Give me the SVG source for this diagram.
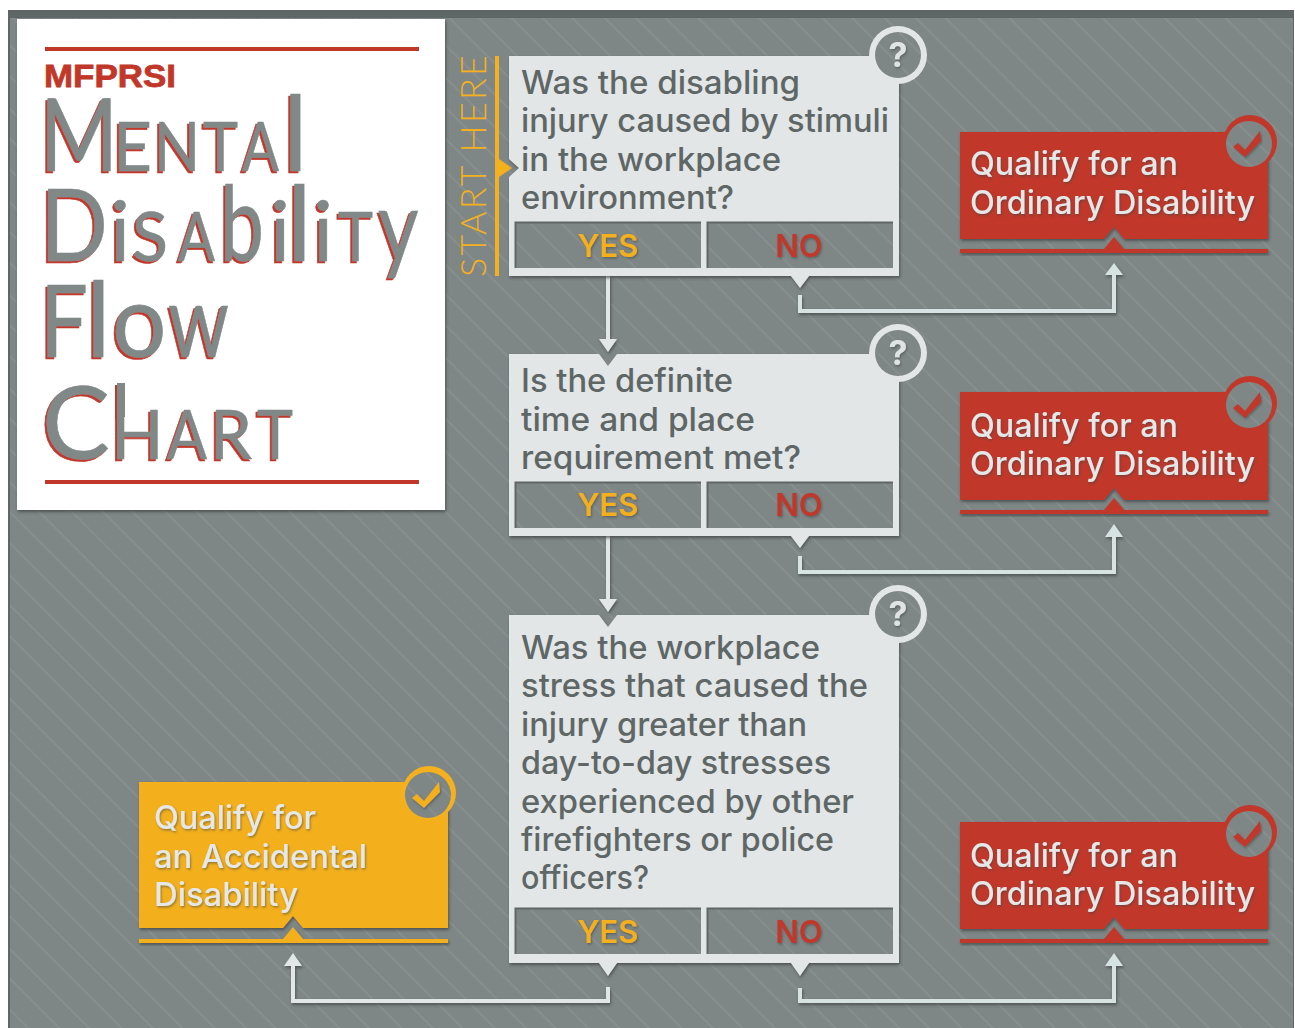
<svg xmlns="http://www.w3.org/2000/svg" width="1295" height="1028" viewBox="0 0 1295 1028">
<style>
text{font-family:"Inter","Lato","Liberation Sans",sans-serif}
.q{font-size:32px;font-weight:500;fill:#5f6766}
.r{font-size:32px;font-weight:500;fill:#e4e8e8}
.yes{font-size:31px;font-weight:600;fill:#f4b01e;text-anchor:middle}
.no{font-size:31px;font-weight:600;fill:#c1382a;text-anchor:middle}
.card{fill:#e2e6e6}
.cell{fill:url(#bg)}
.cellb{fill:none;stroke:#5f6766;stroke-width:2}
.hole{fill:url(#bg)}
.qm{font-size:34px;font-weight:700;fill:#dfe3e3;text-anchor:middle}
.conn{fill:none;stroke:#d6e3e2;stroke-width:4}
.conn2{fill:none;stroke:#e2e6e6;stroke-width:4}
.title{font-family:"Lato","Open Sans",sans-serif;font-weight:400;fill:#808888;stroke:#808888;stroke-width:.6}
.red{fill:#c1382a}.org{fill:#f4b01e}
</style>
<defs>
<pattern id="bg" width="66" height="66" patternUnits="userSpaceOnUse" patternTransform="rotate(45)">
<rect width="66" height="66" fill="#7e8686"/>
<path d="M0 4H66M0 25H66M0 47H66" stroke="#909797" stroke-width="1.2"/>
</pattern>
<filter id="sh" x="-10%" y="-10%" width="120%" height="125%"><feDropShadow dx="1" dy="2" stdDeviation="1.5" flood-color="#3f4444" flood-opacity=".75"/></filter>
<filter id="ts" x="-5%" y="-10%" width="110%" height="130%"><feDropShadow dx="1" dy="1.5" stdDeviation="1" flood-color="#3f4444" flood-opacity=".55"/></filter>
<filter id="rs" x="-5%" y="-5%" width="110%" height="110%"><feFlood flood-color="#c1382a"/><feComposite in2="SourceAlpha" operator="in"/><feOffset dx="-2" dy="2" result="o"/><feMerge><feMergeNode in="o"/><feMergeNode in="SourceGraphic"/></feMerge></filter>
</defs>
<rect width="1295" height="1028" fill="#fff"/>
<rect x="8" y="10" width="1286" height="1018" fill="#5f6766"/>
<rect x="10" y="18" width="1283" height="1010" fill="url(#bg)"/>

<g id="title-panel">
<rect x="17" y="19" width="428" height="491" fill="#fff" filter="url(#sh)"/>
<rect x="45" y="47" width="374" height="4" fill="#c1382a"/>
<rect x="45" y="480" width="374" height="4" fill="#c1382a"/>
<text x="44" y="87" style="font-family:'Liberation Sans',sans-serif;font-weight:700;font-size:32px;fill:#c1382a;stroke:#c1382a;stroke-width:.8" textLength="132" lengthAdjust="spacingAndGlyphs">MFPRSI</text>
<g filter="url(#rs)">
<text class="title" y="171"><tspan x="40" font-size="100" textLength="78" lengthAdjust="spacingAndGlyphs">M</tspan><tspan x="113" font-size="68" textLength="39" lengthAdjust="spacingAndGlyphs">E</tspan><tspan x="154" font-size="68" textLength="46" lengthAdjust="spacingAndGlyphs">N</tspan><tspan x="203" font-size="68" textLength="35" lengthAdjust="spacingAndGlyphs">T</tspan><tspan x="242" font-size="68" textLength="37" lengthAdjust="spacingAndGlyphs">A</tspan><tspan x="283" font-size="105">l</tspan></text>
<text class="title" y="261"><tspan x="40" font-size="100" textLength="68" lengthAdjust="spacingAndGlyphs">D</tspan><tspan x="110" font-size="84">i</tspan><tspan x="132" font-size="68" textLength="36" lengthAdjust="spacingAndGlyphs">S</tspan><tspan x="178" font-size="68" textLength="37" lengthAdjust="spacingAndGlyphs">A</tspan><tspan x="220" font-size="105" textLength="44" lengthAdjust="spacingAndGlyphs">b</tspan><tspan x="270" font-size="84">i</tspan><tspan x="287" font-size="105">l</tspan><tspan x="313" font-size="84">i</tspan><tspan x="338" font-size="68" textLength="35" lengthAdjust="spacingAndGlyphs">T</tspan><tspan x="378" font-size="98" textLength="40.500" lengthAdjust="spacingAndGlyphs">y</tspan></text>
<text class="title" y="357"><tspan x="40" font-size="100" textLength="48" lengthAdjust="spacingAndGlyphs">F</tspan><tspan x="86" font-size="105">l</tspan><tspan x="112" font-size="100" textLength="54.500" lengthAdjust="spacingAndGlyphs">o</tspan><tspan x="168" font-size="100" textLength="61" lengthAdjust="spacingAndGlyphs">w</tspan></text>
<rect x="117" y="383" width="8" height="34" fill="#808888"/>
<text class="title" y="459"><tspan x="42" font-size="100" textLength="68" lengthAdjust="spacingAndGlyphs">C</tspan><tspan x="111" font-size="68" textLength="52.600" lengthAdjust="spacingAndGlyphs">H</tspan><tspan x="167" font-size="68" textLength="40" lengthAdjust="spacingAndGlyphs">A</tspan><tspan x="210" font-size="68" textLength="42" lengthAdjust="spacingAndGlyphs">R</tspan><tspan x="257" font-size="68" textLength="36" lengthAdjust="spacingAndGlyphs">T</tspan></text>
</g>
</g>

<g id="start-here">
<text transform="translate(486 277) rotate(-90)" style="font-family:'Lato',sans-serif;font-weight:300;font-size:36px;fill:#f4b01e" textLength="222" lengthAdjust="spacing">START HERE</text>
<rect x="495" y="56" width="4" height="220" class="org"/>
</g>

<g id="connectors" filter="url(#sh)">
<path class="conn2" d="M608 276V342"/>
<path d="M599 339H617L608 352Z" fill="#e2e6e6"/>
<path class="conn2" d="M608 536V601"/>
<path d="M599 599H617L608 612Z" fill="#e2e6e6"/>
<path class="conn" d="M800 295V311H1114V270"/>
<path d="M1105 275H1123L1114 263Z" fill="#d6e3e2"/>
<path class="conn" d="M800 556V572H1114V531"/>
<path d="M1105 537H1123L1114 524Z" fill="#d6e3e2"/>
<path class="conn" d="M800 988V1001H1114V960"/>
<path d="M1105 966H1123L1114 953Z" fill="#d6e3e2"/>
<path class="conn2" d="M608 987V1001H293V960"/>
<path d="M284 966H302L293 953Z" fill="#e2e6e6"/>
</g>

<g id="q1">
<path class="card" filter="url(#sh)" d="M509 56H899V276H809L800 288L791 276H509V177L519 168L509 159Z"/>
<path d="M499 159L512 168L499 177Z" class="org"/>
<rect class="cell" x="515" y="222" width="186" height="46"/><rect class="cell" x="707" y="222" width="186" height="46"/>
<path class="cellb" d="M515.500 268V222.500H701M707.500 268V222.500H893"/>
<text class="q" x="521" y="94" textLength="279" lengthAdjust="spacingAndGlyphs">Was the disabling</text>
<text class="q" x="521" y="132" textLength="368" lengthAdjust="spacingAndGlyphs">injury caused by stimuli</text>
<text class="q" x="521" y="171" textLength="260" lengthAdjust="spacingAndGlyphs">in the workplace</text>
<text class="q" x="521" y="209" textLength="213" lengthAdjust="spacingAndGlyphs">environment?</text>
<text class="yes" x="608" y="257" filter="url(#ts)">YES</text><text class="no" x="799" y="257" filter="url(#ts)">NO</text>
<circle cx="898" cy="55" r="29" class="card"/><circle cx="898" cy="55" r="23" class="hole"/>
<text class="qm" x="898" y="67" filter="url(#ts)">?</text>
</g>

<g id="q2">
<path class="card" filter="url(#sh)" d="M509 354H599L608 366L617 354H899V536H809L800 548L791 536H509Z"/>
<rect class="cell" x="515" y="482" width="186" height="46"/><rect class="cell" x="707" y="482" width="186" height="46"/>
<path class="cellb" d="M515.500 528V482.500H701M707.500 528V482.500H893"/>
<text class="q" x="521" y="392" textLength="212" lengthAdjust="spacingAndGlyphs">Is the definite</text>
<text class="q" x="521" y="431" textLength="234" lengthAdjust="spacingAndGlyphs">time and place</text>
<text class="q" x="521" y="469" textLength="280" lengthAdjust="spacingAndGlyphs">requirement met?</text>
<text class="yes" x="608" y="516" filter="url(#ts)">YES</text><text class="no" x="799" y="516" filter="url(#ts)">NO</text>
<circle cx="898" cy="353" r="29" class="card"/><circle cx="898" cy="353" r="23" class="hole"/>
<text class="qm" x="898" y="365" filter="url(#ts)">?</text>
</g>

<g id="q3">
<path class="card" filter="url(#sh)" d="M509 615H599L608 627L617 615H899V963H809L800 976L791 963H617L608 976L599 963H509Z"/>
<rect class="cell" x="515" y="908" width="186" height="46"/><rect class="cell" x="707" y="908" width="186" height="46"/>
<path class="cellb" d="M515.500 954V908.500H701M707.500 954V908.500H893"/>
<text class="q" x="521" y="659" textLength="299" lengthAdjust="spacingAndGlyphs">Was the workplace</text>
<text class="q" x="521" y="697" textLength="347" lengthAdjust="spacingAndGlyphs">stress that caused the</text>
<text class="q" x="521" y="736" textLength="286" lengthAdjust="spacingAndGlyphs">injury greater than</text>
<text class="q" x="521" y="774" textLength="310" lengthAdjust="spacingAndGlyphs">day-to-day stresses</text>
<text class="q" x="521" y="813" textLength="333" lengthAdjust="spacingAndGlyphs">experienced by other</text>
<text class="q" x="521" y="851" textLength="313" lengthAdjust="spacingAndGlyphs">firefighters or police</text>
<text class="q" x="521" y="889" textLength="128" lengthAdjust="spacingAndGlyphs">officers?</text>
<text class="yes" x="608" y="943" filter="url(#ts)">YES</text><text class="no" x="799" y="943" filter="url(#ts)">NO</text>
<circle cx="898" cy="614" r="29" class="card"/><circle cx="898" cy="614" r="23" class="hole"/>
<text class="qm" x="898" y="626" filter="url(#ts)">?</text>
</g>

<g id="ordinary1">
<path class="red" filter="url(#sh)" d="M960 132H1268V239H1124L1114 227L1104 239H960Z"/>
<path class="red" filter="url(#sh)" d="M960 249H1104L1114 237L1124 249H1268V253H960Z"/>
<circle cx="1250" cy="142" r="27" class="red"/><circle cx="1249" cy="144" r="23" class="hole"/>
<path class="red" filter="url(#ts)" d="M1233 147L1238 143L1245 150L1260 131L1261 141L1245 157Z"/>
<text class="r" x="970" y="175" filter="url(#ts)" textLength="208" lengthAdjust="spacingAndGlyphs">Qualify for an</text>
<text class="r" x="970" y="214" filter="url(#ts)" textLength="285" lengthAdjust="spacingAndGlyphs">Ordinary Disability</text>
</g>

<g id="ordinary2">
<path class="red" filter="url(#sh)" d="M960 392H1268V500H1124L1114 488L1104 500H960Z"/>
<path class="red" filter="url(#sh)" d="M960 510H1104L1114 498L1124 510H1268V514H960Z"/>
<circle cx="1250" cy="403" r="27" class="red"/><circle cx="1249" cy="405" r="23" class="hole"/>
<path class="red" filter="url(#ts)" d="M1233 408L1238 404L1245 411L1260 392L1261 402L1245 418Z"/>
<text class="r" x="970" y="437" filter="url(#ts)" textLength="208" lengthAdjust="spacingAndGlyphs">Qualify for an</text>
<text class="r" x="970" y="475" filter="url(#ts)" textLength="285" lengthAdjust="spacingAndGlyphs">Ordinary Disability</text>
</g>

<g id="ordinary3">
<path class="red" filter="url(#sh)" d="M960 822H1268V929H1124L1114 917L1104 929H960Z"/>
<path class="red" filter="url(#sh)" d="M960 939H1104L1114 927L1124 939H1268V943H960Z"/>
<circle cx="1250" cy="832" r="27" class="red"/><circle cx="1249" cy="834" r="23" class="hole"/>
<path class="red" filter="url(#ts)" d="M1233 837L1238 833L1245 840L1260 821L1261 831L1245 847Z"/>
<text class="r" x="970" y="867" filter="url(#ts)" textLength="208" lengthAdjust="spacingAndGlyphs">Qualify for an</text>
<text class="r" x="970" y="905" filter="url(#ts)" textLength="285" lengthAdjust="spacingAndGlyphs">Ordinary Disability</text>
</g>

<g id="accidental">
<path class="org" filter="url(#sh)" d="M139 782H448V928H303L293 916L283 928H139Z"/>
<path class="org" filter="url(#sh)" d="M139 939H283L293 927L303 939H448V943H139Z"/>
<circle cx="429" cy="793" r="27" class="org"/><circle cx="428" cy="795" r="23" class="hole"/>
<path class="org" filter="url(#ts)" d="M412 798L417 794L424 801L439 782L440 792L424 808Z"/>
<text class="r" x="154" y="829" filter="url(#ts)" textLength="162" lengthAdjust="spacingAndGlyphs">Qualify for</text>
<text class="r" x="154" y="868" filter="url(#ts)" textLength="213" lengthAdjust="spacingAndGlyphs">an Accidental</text>
<text class="r" x="154" y="906" filter="url(#ts)" textLength="144" lengthAdjust="spacingAndGlyphs">Disability</text>
</g>
</svg>
